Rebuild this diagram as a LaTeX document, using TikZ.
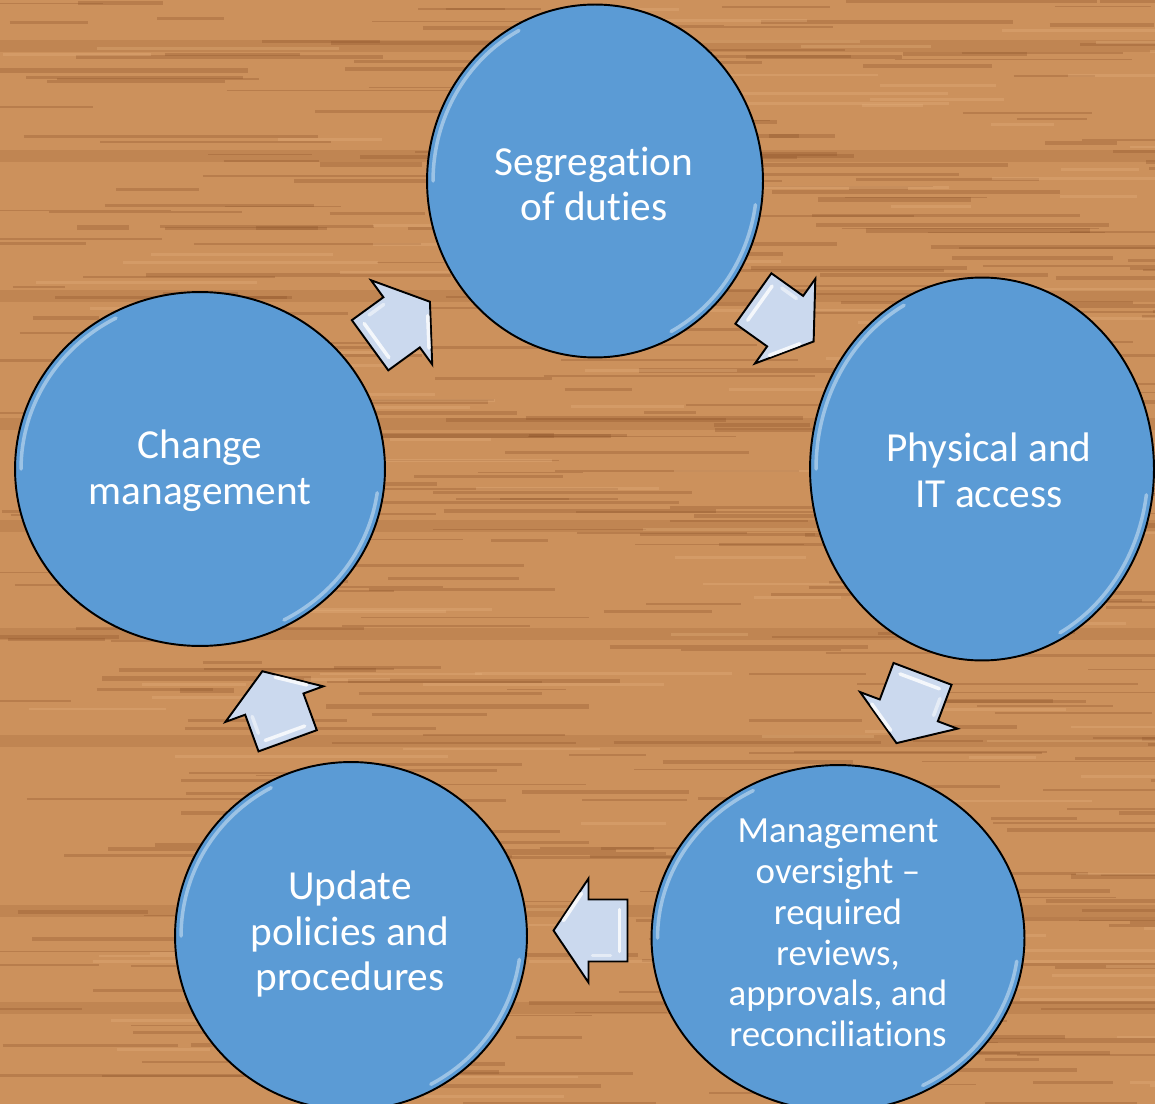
\documentclass[tikz,border=0pt]{standalone}
\usepackage{fontspec}
\setmainfont{Carlito}[Ligatures=NoCommon]
\usetikzlibrary{shapes.geometric,calc}

\definecolor{woodbase}{RGB}{204,145,92}
\definecolor{woodgrain}{RGB}{140,82,40}
\definecolor{woodlight}{RGB}{228,176,124}
\definecolor{cycleblue}{RGB}{91,155,213}
\definecolor{arrowfill}{RGB}{203,217,238}

\tikzset{
  stepcircle/.style={ellipse, draw=black, line width=1.1pt, fill=cycleblue, inner sep=0pt},
  steptext/.style={text=white, align=center, font=\fontsize{23.5}{26}\selectfont},
  smalltext/.style={text=white, align=center, font=\fontsize{21}{23.2}\selectfont},
  rim/.style={white, line width=2pt, opacity=0.4, line cap=round},
  cyclearrow/.style={fill=arrowfill, draw=black, line width=1.1pt, line join=miter},
  bevel/.style={white, line width=2pt, opacity=0.8, line cap=round},
}

\begin{document}
\begin{tikzpicture}[x=0.02cm, y=-0.02cm]
\useasboundingbox (0,0) rectangle (1155,1104);
\clip (0,0) rectangle (1155,1104);

% wood background
\fill[woodbase] (0,0) rectangle (1155,1104);
\foreach \by in {40,150,290,418,520,628,735,905,1002}
  \fill[woodgrain, opacity=0.18] (0,\by) rectangle (1155,\by+12);
\pgfmathsetseed{11}
\foreach \i in {1,...,420}{
  \pgfmathsetmacro\gx{rnd*1200-40}
  \pgfmathsetmacro\gy{rnd*1104}
  \pgfmathsetmacro\gl{50+rnd*260}
  \pgfmathsetmacro\gw{0.6+rnd*2}
  \draw[woodgrain, opacity=0.3, line width=\gw pt] (\gx,\gy) -- ++(\gl,0);
}
\foreach \i in {1,...,120}{
  \pgfmathsetmacro\gx{rnd*1200-40}
  \pgfmathsetmacro\gy{rnd*1104}
  \pgfmathsetmacro\gl{60+rnd*220}
  \draw[woodlight, opacity=0.35, line width=1.6pt] (\gx,\gy) -- ++(\gl,0);
}

% circles
\node[stepcircle, minimum width=6.72cm, minimum height=7.06cm] (seg) at (595,181) {};
\node[stepcircle, minimum width=6.88cm, minimum height=7.66cm] (phys) at (982,469) {};
\node[stepcircle, minimum width=7.46cm, minimum height=6.92cm] (mgmt) at (838,938) {};
\node[stepcircle, minimum width=7.04cm, minimum height=6.96cm] (upd) at (351,936) {};
\node[stepcircle, minimum width=7.40cm, minimum height=7.08cm] (chg) at (200,469) {};

% glossy edges
\foreach \n/\rx/\ry in {seg/3.24/3.41, phys/3.32/3.71, mgmt/3.61/3.34, upd/3.40/3.36, chg/3.58/3.42}{
  \draw[rim] ($(\n.center)+(118:\rx cm and \ry cm)$) arc[start angle=118, end angle=180, x radius=\rx cm, y radius=\ry cm];
  \draw[rim] ($(\n.center)+(-62:\rx cm and \ry cm)$) arc[start angle=-62, end angle=-8, x radius=\rx cm, y radius=\ry cm];
}

% labels
\node[steptext] (seg-t) at (594,184) {Segregation\\of duties};
\node[steptext] (phys-t) at (989,470) {Physical and\\IT access};
\node[smalltext] (mgmt-t) at (838,933) {Management\\oversight –\\required\\reviews,\\approvals, and\\reconciliations};
\node[steptext] (upd-t) at (350,934) {Update\\policies and\\procedures};
\node[steptext] (chg-t) at (200,471) {Change\\management};

% block arrows between the steps
\foreach \ax/\ay/\ang in {783.5/320/-35.5, 909.5/708.5/-110.6, 590.5/930.5/180, 275/706/110, 400/323.5/36}{
  \begin{scope}[shift={(\ax,\ay)}, rotate=\ang]
    \draw[cyclearrow] (-37,-31) -- (2,-31) -- (2,-52) -- (37,0) -- (2,52) -- (2,31) -- (-37,31) -- cycle;
    \draw[bevel] (-29,-21) -- (-29,21);
    \draw[bevel] (9,37) -- (27,10);
    \draw[bevel, opacity=0.5] (-20,-25) -- (-2,-25);
  \end{scope}
}
\end{tikzpicture}
\end{document}
